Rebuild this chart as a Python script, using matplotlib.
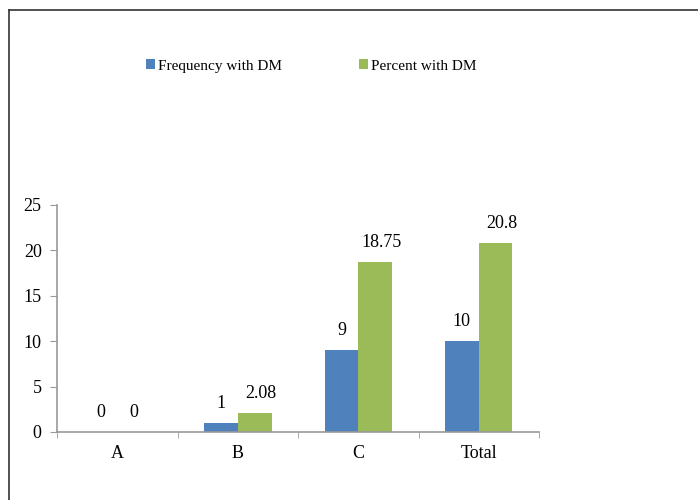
import matplotlib
matplotlib.use("Agg")
import matplotlib.pyplot as plt
import numpy as np
from matplotlib.lines import Line2D

# Данные по группам
categories = ["A", "B", "C", "Total"]
frequency_dm = [0, 1, 9, 10]
percent_dm = [0, 2.08, 18.75, 20.8]
frequency_labels = ["0", "1", "9", "10"]
percent_labels = ["0", "2.08", "18.75", "20.8"]

blue = "#4F81BD"
green = "#9BBB59"
axis_grey = "#999999"

plt.rcParams["font.family"] = ["Liberation Serif", "DejaVu Serif"]
plt.rcParams["font.size"] = 13

fig = plt.figure(figsize=(6.98, 5.0), dpi=100)
ax = fig.add_axes([0.0817, 0.136, 0.6905, 0.454])

x = np.arange(len(categories))
w = 0.28
bars1 = ax.bar(x - w / 2, frequency_dm, w, color=blue, label="Frequency with DM")
bars2 = ax.bar(x + w / 2, percent_dm, w, color=green, label="Percent with DM")

# подписи значений над столбиками
for b, t in zip(bars1, frequency_labels):
    ax.annotate(t, (b.get_x() + b.get_width() / 2, b.get_height()),
                xytext=(0, 11), textcoords="offset pixels",
                ha="center", va="bottom", fontsize=13)
for b, t in zip(bars2, percent_labels):
    dx = 6 if "." in t else 0
    ax.annotate(t, (b.get_x() + b.get_width() / 2, b.get_height()),
                xytext=(dx, 11), textcoords="offset pixels",
                ha="center", va="bottom", fontsize=13)

ax.set_xlim(-0.5, len(categories) - 0.5)
ax.set_ylim(0, 25)
ax.set_yticks([0, 5, 10, 15, 20, 25])

ax.set_xticks(x)
ax.set_xticklabels(categories)
ax.set_xticks(np.arange(-0.5, len(categories)), minor=True)
ax.tick_params(axis="x", which="major", length=0, pad=9)
ax.tick_params(axis="x", which="minor", length=4, color=axis_grey, direction="out")
ax.tick_params(axis="y", length=5, color=axis_grey, pad=6)

for s in ["top", "right"]:
    ax.spines[s].set_visible(False)
for s in ["left", "bottom"]:
    ax.spines[s].set_color(axis_grey)
    ax.spines[s].set_linewidth(1.2)

fig.legend(handles=[bars1, bars2], loc="center", bbox_to_anchor=(0.446, 0.868),
           ncol=2, frameon=False, handlelength=0.6, handleheight=0.6,
           handletextpad=0.2, columnspacing=5.0, fontsize=11)

# рамка вокруг области графика
fig.add_artist(Line2D([0.013, 0.013], [0.0, 0.98], color="#333333", lw=1.2))
fig.add_artist(Line2D([0.013, 1.0], [0.98, 0.98], color="#333333", lw=1.2))

plt.savefig("out.png", dpi=100)
plt.close()
